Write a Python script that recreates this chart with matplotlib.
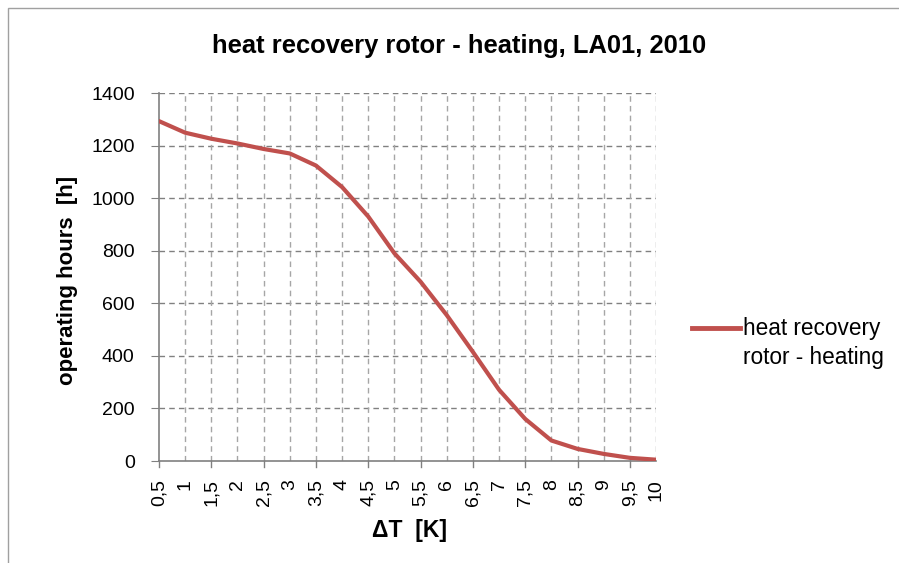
import matplotlib.pyplot as plt
from matplotlib.patches import Rectangle
from matplotlib.lines import Line2D

plt.rcParams['font.family'] = ['Liberation Sans', 'DejaVu Sans']

categories = ['0,5', '1', '1,5', '2', '2,5', '3', '3,5', '4', '4,5', '5',
              '5,5', '6', '6,5', '7', '7,5', '8', '8,5', '9', '9,5', '10']
hours = [1293, 1249, 1226, 1208, 1187, 1170, 1124, 1042, 930, 790,
         682, 555, 415, 271, 160, 78, 46, 27, 12, 5]
yticks = [0, 200, 400, 600, 800, 1000, 1200, 1400]

fig = plt.figure(figsize=(8.99, 5.63), dpi=100)
ax = fig.add_axes([159 / 899, 1 - 461 / 563, 497 / 899, 368 / 563])

x = list(range(len(categories)))
ax.plot(x, hours, color='#C0504D', linewidth=3, solid_capstyle='round', zorder=3)

ax.set_xlim(0, len(categories) - 1)
ax.set_ylim(0, 1400)
ax.set_yticks(yticks)
ax.set_yticklabels([str(v) for v in yticks], fontsize=14)
ax.set_xticks(x)
ax.set_xticklabels(categories, rotation=90, fontsize=14)
ax.tick_params(axis='x', length=0, pad=13)
ax.tick_params(axis='y', length=6, color='#808080', pad=11.5)

# major ticks at every other category, drawn as small marks below the axis
for i in x[::2]:
    ax.plot([i, i], [0, -1400 * 6 / 368], color='#808080', linewidth=1,
            clip_on=False, zorder=4)

for v in yticks[1:]:
    ax.axhline(v, color='#808080', linestyle=(0, (4, 3)), linewidth=1, zorder=1)
for i in x[1:]:
    ax.axvline(i, color='#A6A6A6', linestyle=(0, (4, 3)), linewidth=1, zorder=1)

for s in ['top', 'right']:
    ax.spines[s].set_visible(False)
for s in ['left', 'bottom']:
    ax.spines[s].set_color('#808080')
    ax.spines[s].set_linewidth(1.2)

fig.text(459 / 899, 1 - 46 / 563, 'heat recovery rotor - heating, LA01, 2010',
         ha='center', va='center', fontsize=18.4, fontweight='bold')
fig.text(409 / 899, 1 - 530 / 563, 'ΔT  [K]', ha='center', va='center',
         fontsize=16.5, fontweight='bold')
fig.text(67 / 899, 1 - 280 / 563, 'operating hours  [h]', ha='center', va='center',
         rotation=90, fontsize=16, fontweight='bold')

# legend
fig.add_artist(Line2D([692 / 899, 740 / 899], [1 - 328 / 563, 1 - 328 / 563],
                      color='#C0504D', linewidth=3.5, transform=fig.transFigure))
fig.text(743 / 899, 1 - 343 / 563, 'heat recovery\nrotor - heating', ha='left',
         va='center', fontsize=16.3, linespacing=1.3)

fig.add_artist(Rectangle((8 / 899, -0.05), 1.0, 1 - 8 / 563 + 0.05,
                         transform=fig.transFigure, fill=False,
                         edgecolor='#A0A0A0', linewidth=1))

fig.savefig('out.png', dpi=100)
